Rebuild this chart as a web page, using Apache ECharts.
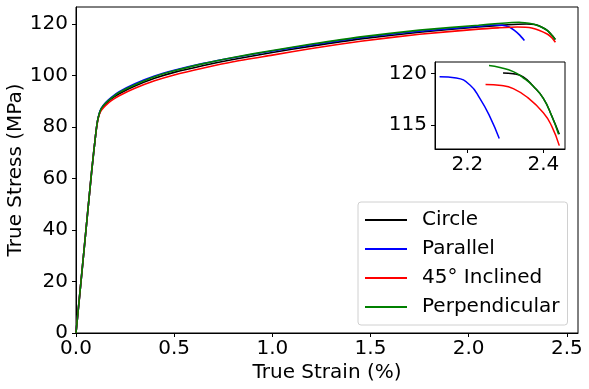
<!DOCTYPE html>
<html>
<head>
<meta charset="utf-8">
<script src="https://cdn.jsdelivr.net/npm/echarts@6/dist/echarts.min.js"></script>
<style>
  html, body { margin: 0; padding: 0; background: #fff; }
  #chart { width: 589px; height: 389px; }
</style>
</head>
<body>
<div id="chart"></div>
<script>
// strain (%) points shared by the body of every curve
const bodyStrain = [0, 0.04, 0.08, 0.1, 0.11, 0.12, 0.13, 0.15, 0.18, 0.22, 0.3, 0.4, 0.5, 0.65, 0.8, 1.0, 1.2, 1.45, 1.75, 2.05];

// true stress (MPa)
const circleBody = [0, 31.5, 63, 77, 82.5, 85.5, 87.2, 89.0, 91.0, 93.0, 96.0, 99.0, 101.3, 104.0, 106.3, 109.0, 111.5, 114.3, 116.9, 118.9];
const parallelBody = [0, 31.5, 63, 77, 82.6, 85.7, 87.5, 89.5, 91.6, 93.8, 96.9, 99.9, 102.1, 104.8, 107.0, 109.6, 112.0, 114.8, 117.3, 119.2];
const inclinedBody = [0, 31.5, 63, 77, 82.3, 85.2, 86.7, 88.4, 90.3, 92.2, 95.1, 98.0, 100.3, 103.0, 105.4, 108.0, 110.6, 113.4, 116.1, 118.1];
const perpBody = [0, 31.5, 63, 77, 82.5, 85.6, 87.4, 89.3, 91.3, 93.5, 96.5, 99.6, 101.9, 104.7, 107.1, 109.8, 112.3, 115.1, 117.7, 119.6];

// extra points between body and tail
const circleMidX = [2.2];
const circleMidY = [119.8];
const parallelMidX = [];
const parallelMidY = [];
const inclinedMidX = [2.15];
const inclinedMidY = [118.6];
const perpMidX = [2.15];
const perpMidY = [120.3];

// tails (what the inset shows)
const circleTailX = [2.294, 2.321, 2.347, 2.373, 2.4, 2.422, 2.442];
const circleTailY = [120.07, 120.0, 119.7, 118.8, 117.6, 115.9, 114.1];
const parallelTailX = [2.127, 2.171, 2.207, 2.233, 2.259, 2.284];
const parallelTailY = [119.7, 119.58, 118.9, 117.6, 115.85, 113.7];
const inclinedTailX = [2.248, 2.29, 2.321, 2.358, 2.4, 2.422, 2.442];
const inclinedTailY = [118.95, 118.85, 118.55, 117.7, 116.2, 114.9, 113.0];
const perpTailX = [2.257, 2.286, 2.321, 2.347, 2.373, 2.4, 2.422, 2.44];
const perpTailY = [120.8, 120.6, 120.2, 119.6, 118.8, 117.6, 115.9, 114.1];

const names = ["Circle", "Parallel", "45° Inclined", "Perpendicular"];
const colors = ["#000000", "#0000ff", "#ff0000", "#008000"];

const xTicks = [0, 0.5, 1.0, 1.5, 2.0, 2.5];
const yTicks = [0, 20, 40, 60, 80, 100, 120];
const insetXTicks = [2.2, 2.4];
const insetYTicks = [115, 120];

const zip = (xs, ys) => xs.map((x, i) => [x, ys[i]]);

const tails = [
  zip(circleTailX, circleTailY),
  zip(parallelTailX, parallelTailY),
  zip(inclinedTailX, inclinedTailY),
  zip(perpTailX, perpTailY),
];
const full = [
  zip(bodyStrain, circleBody).concat(zip(circleMidX, circleMidY), tails[0]),
  zip(bodyStrain, parallelBody).concat(zip(parallelMidX, parallelMidY), tails[1]),
  zip(bodyStrain, inclinedBody).concat(zip(inclinedMidX, inclinedMidY), tails[2]),
  zip(bodyStrain, perpBody).concat(zip(perpMidX, perpMidY), tails[3]),
];

const font = "DejaVu Sans";
const axisCommon = {
  axisLine: { show: true, onZero: false, lineStyle: { color: "#000", width: 1 } },
  axisTick: { show: true, length: 4, lineStyle: { color: "#000", width: 1 } },
  splitLine: { show: false },
};

const chart = echarts.init(document.getElementById("chart"));
chart.setOption({
  animation: false,
  backgroundColor: "#fff",
  textStyle: { fontFamily: font },
  grid: [
    { left: 76, top: 7, width: 502, height: 326, outerBoundsMode: "none", containLabel: false, show: true, borderColor: "#000", borderWidth: 1, backgroundColor: "#fff" },
    { left: 435, top: 62, width: 130, height: 87, outerBoundsMode: "none", containLabel: false, show: true, borderColor: "#000", borderWidth: 1, backgroundColor: "#fff", z: 5 },
  ],
  xAxis: [
    {
      ...axisCommon, gridIndex: 0, type: "value", min: 0, max: 2.557,
      name: "True Strain (%)", nameLocation: "middle", nameGap: 30, nameMoveOverlap: false,
      nameTextStyle: { fontSize: 20, color: "#000", fontFamily: font },
      axisTick: { ...axisCommon.axisTick, customValues: xTicks },
      axisLabel: { customValues: xTicks, fontSize: 20, color: "#000", margin: 6, fontFamily: font, formatter: v => v.toFixed(1) },
    },
    {
      ...axisCommon, gridIndex: 1, type: "value", min: 2.115, max: 2.457, z: 6,
      axisTick: { ...axisCommon.axisTick, customValues: insetXTicks },
      axisLabel: { customValues: insetXTicks, fontSize: 20, color: "#000", margin: 6, fontFamily: font, formatter: v => v.toFixed(1) },
    },
  ],
  yAxis: [
    {
      ...axisCommon, gridIndex: 0, type: "value", min: 0, max: 126.7,
      name: "True Stress (MPa)", nameLocation: "middle", nameGap: 50, nameMoveOverlap: false,
      nameTextStyle: { fontSize: 20, color: "#000", fontFamily: font },
      axisTick: { ...axisCommon.axisTick, customValues: yTicks },
      axisLabel: { customValues: yTicks, fontSize: 20, color: "#000", margin: 8, fontFamily: font },
    },
    {
      ...axisCommon, gridIndex: 1, type: "value", min: 112.67, max: 121.14, z: 6,
      axisTick: { ...axisCommon.axisTick, customValues: insetYTicks },
      axisLabel: { customValues: insetYTicks, fontSize: 20, color: "#000", margin: 8, fontFamily: font },
    },
  ],
  legend: {
    orient: "vertical",
    left: 358,
    top: 202,
    padding: [8, 8, 8, 7],
    itemGap: 9,
    itemWidth: 42,
    itemHeight: 2,
    icon: "rect",
    borderColor: "#d0d0d0",
    borderWidth: 1,
    borderRadius: 3,
    backgroundColor: "rgba(255,255,255,0.8)",
    textStyle: { fontSize: 20, color: "#000", fontFamily: font, padding: [0, 0, 0, 10] },
    data: names,
  },
  series: [
    ...names.map((n, i) => ({
      name: n, type: "line", xAxisIndex: 0, yAxisIndex: 0,
      data: full[i], symbol: "none", showSymbol: false, smooth: 0.2,
      lineStyle: { color: colors[i], width: 1.6 }, itemStyle: { color: colors[i] },
    })),
    ...names.map((n, i) => ({
      name: n, type: "line", xAxisIndex: 1, yAxisIndex: 1, z: 7,
      data: tails[i], symbol: "none", showSymbol: false, smooth: 0.5,
      lineStyle: { color: colors[i], width: 1.5 }, itemStyle: { color: colors[i] },
    })),
  ],
});
</script>
</body>
</html>
